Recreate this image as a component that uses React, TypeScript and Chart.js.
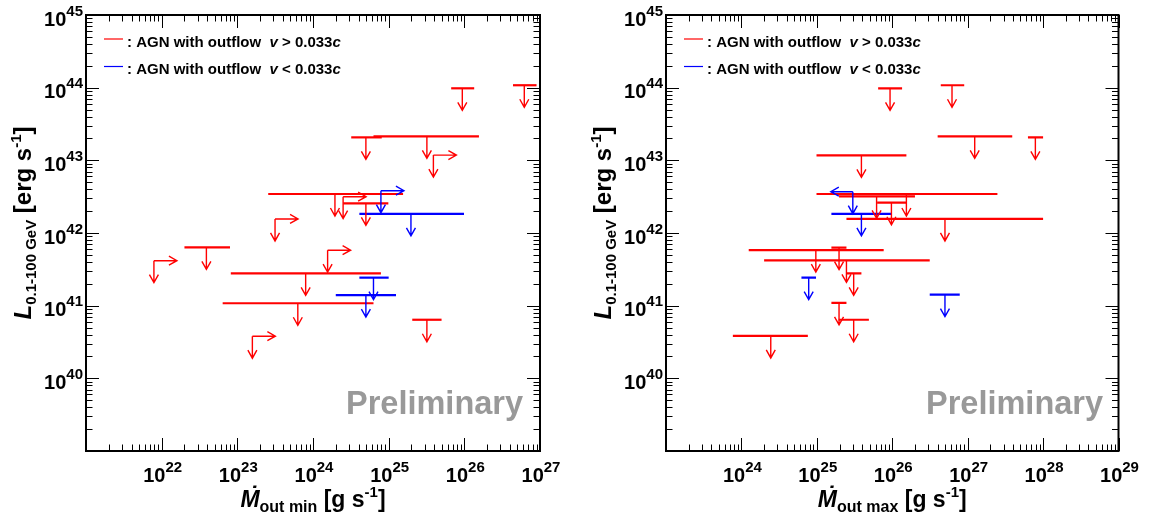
import React, { useEffect, useRef } from "react";
import { Chart, registerables } from "chart.js";

Chart.register(...registerables);

const FONT = '"Liberation Sans", Arial, Helvetica, sans-serif';
const RED = "#ff0000";
const BLUE = "#0000ff";

// ---------- Left panel: Mdot_out min ----------
const minX = [9.4e25, 6.2e26, 5.0e24, 3.2e25, 3.9e25, 1.95e24, 2.5e24, 5.0e24, 7.9e24, 1.97e25, 3.15e23, 3.9e22, 7.9e21, 1.56e24, 8.0e23, 6.3e24, 5.0e24, 6.3e23, 3.2e25, 1.58e23];
const minXLo = [6.7e25, 4.4e26, 3.2e24, 6.3e24, null, 2.56e23, null, 2.5e24, null, 4.1e24, null, 2.0e22, null, null, 8.2e22, 4.1e24, 2.0e24, 6.4e22, 2.05e25, null];
const minXHi = [1.35e26, 9.0e26, 8.1e24, 1.56e26, null, 1.55e25, null, 9.9e24, null, 9.9e25, null, 8.0e22, null, null, 7.9e24, 1.0e25, 1.25e25, 6.3e24, 5.0e25, null];
const minY = [9.8e43, 1.08e44, 2.07e43, 2.14e43, 1.18e43, 3.44e42, 3.16e42, 2.56e42, 3.82e42, 1.83e42, 1.56e42, 6.35e41, 4.16e41, 5.8e41, 2.79e41, 2.43e41, 1.4e41, 1.08e41, 6.4e40, 3.8e40];
const minGroup = ["fast", "fast", "fast", "fast", "fast", "fast", "fast", "fast", "slow", "slow", "fast", "fast", "fast", "fast", "fast", "slow", "slow", "fast", "fast", "fast"];
const minXLimit = ["", "", "", "", "right", "", "right", "", "right", "", "right", "", "right", "right", "", "", "", "", "", "right"];

// ---------- Right panel: Mdot_out max ----------
const maxX = [9.35e25, 6.2e26, 1.24e27, 7.9e27, 3.9e25, 1.54e26, 6.2e25, 9.75e25, 3.0e25, 3.9e25, 5.0e26, 9.7e24, 1.97e25, 2.47e25, 3.08e25, 7.8e24, 5.0e26, 1.97e25, 3.08e25, 2.45e24];
const maxXLo = [6.5e25, 4.4e26, 4.0e26, 6.3e27, 9.9e24, 9.9e24, 1.97e25, 6.3e25, null, 1.56e25, 2.47e25, 1.25e24, 1.56e25, 2.0e24, 2.47e25, 6.25e24, 3.14e26, 1.56e25, 1.95e25, 7.7e23];
const maxXHi = [1.35e26, 9.0e26, 3.9e27, 1.0e28, 1.54e26, 2.48e27, 2.0e26, 1.54e26, null, 9.75e25, 1.0e28, 7.7e25, 2.47e25, 3.14e26, 3.9e25, 9.75e24, 7.85e26, 2.47e25, 4.9e25, 7.6e24];
const maxY = [9.8e43, 1.08e44, 2.14e43, 2.07e43, 1.17e43, 3.44e42, 3.2e42, 2.61e42, 3.7e42, 1.83e42, 1.56e42, 5.8e41, 6.3e41, 4.2e41, 2.79e41, 2.43e41, 1.42e41, 1.09e41, 6.4e40, 3.83e40];
const maxGroup = ["fast", "fast", "fast", "fast", "fast", "fast", "fast", "fast", "slow", "slow", "fast", "fast", "fast", "fast", "fast", "slow", "slow", "fast", "fast", "fast"];
const maxXLimit = ["", "", "", "", "", "", "", "", "left", "", "", "", "", "", "", "", "", "", "", ""];

// ---------- Axes ----------
const yRange = [1e39, 1e45];
const minXRange = [1e21, 1e27];
const maxXRange = [1e23, 1e29];
const yTickExps = [40, 41, 42, 43, 44, 45];
const minXTickExps = [22, 23, 24, 25, 26, 27];
const maxXTickExps = [24, 25, 26, 27, 28, 29];
const legendGroups = ["fast", "slow"];
const legendSigns = [">", "<"];
const legendThreshold = "0.033";

type Part = { t: string; size: number; italic?: boolean; dy?: number; dot?: boolean };

function partFont(p: Part) {
  return `${p.italic ? "italic " : ""}bold ${p.size}px ${FONT}`;
}

function drawParts(ctx: CanvasRenderingContext2D, parts: Part[], x: number, y: number, align: "left" | "center" | "right") {
  let w = 0;
  for (const p of parts) {
    ctx.font = partFont(p);
    w += ctx.measureText(p.t).width;
  }
  let cx = align === "left" ? x : align === "center" ? x - w / 2 : x - w;
  ctx.textAlign = "left";
  ctx.textBaseline = "alphabetic";
  for (const p of parts) {
    ctx.font = partFont(p);
    const pw = ctx.measureText(p.t).width;
    ctx.fillText(p.t, cx, y + (p.dy || 0));
    if (p.dot) {
      ctx.textAlign = "center";
      ctx.fillText("\u02D9", cx + pw / 2 + 3, y + (p.dy || 0) - 4);
      ctx.textAlign = "left";
    }
    cx += pw;
  }
}

function arrow(ctx: CanvasRenderingContext2D, x0: number, y0: number, x1: number, y1: number) {
  const ang = Math.atan2(y1 - y0, x1 - x0);
  const L = 8;
  const W = 4.5;
  const bx = x1 - L * Math.cos(ang);
  const by = y1 - L * Math.sin(ang);
  const px = -Math.sin(ang) * W;
  const py = Math.cos(ang) * W;
  ctx.beginPath();
  ctx.moveTo(x0, y0);
  ctx.lineTo(x1, y1);
  ctx.moveTo(bx + px, by + py);
  ctx.lineTo(x1, y1);
  ctx.lineTo(bx - px, by - py);
  ctx.stroke();
}

function logTicks(scale: any, lo: number, hi: number) {
  const a = Math.round(Math.log10(lo));
  const b = Math.round(Math.log10(hi));
  const ticks: any[] = [];
  for (let e = a; e < b; e++) {
    for (let k = 1; k < 10; k++) ticks.push({ value: k * Math.pow(10, e), major: k === 1 });
  }
  ticks.push({ value: Math.pow(10, b), major: true });
  scale.ticks = ticks;
}

type PanelCfg = {
  offset: number;
  width: number;
  padLeft: number;
  padRight: number;
  X: number[];
  XLo: (number | null)[];
  XHi: (number | null)[];
  Y: number[];
  group: string[];
  limit: string[];
  xRange: number[];
  xTickExps: number[];
  xSub: string;
};

function colorOf(g: string) {
  return g === "slow" ? BLUE : RED;
}

function Panel({ cfg }: { cfg: PanelCfg }) {
  const ref = useRef<HTMLCanvasElement | null>(null);
  useEffect(() => {
    if (!ref.current) return;
    const datasets: any[] = cfg.X.map((x, i) => {
      const col = colorOf(cfg.group[i]);
      const hasBar = !cfg.limit[i] && cfg.XLo[i] != null && cfg.XHi[i] != null;
      return {
        data: hasBar
          ? [
              { x: cfg.XLo[i], y: cfg.Y[i] },
              { x: cfg.XHi[i], y: cfg.Y[i] },
            ]
          : [{ x, y: cfg.Y[i] }],
        showLine: hasBar,
        borderColor: col,
        backgroundColor: col,
        borderWidth: 2.2,
        borderCapStyle: "butt",
        pointRadius: 0,
        pointHoverRadius: 0,
        tension: 0,
        fill: false,
      };
    });

    const deco = {
      id: "deco",
      afterDatasetsDraw(chart: any) {
        const ctx: CanvasRenderingContext2D = chart.ctx;
        const xs = chart.scales.x;
        const ys = chart.scales.y;
        ctx.save();
        ctx.lineWidth = 1.4;
        ctx.lineCap = "butt";
        cfg.X.forEach((x, i) => {
          const px = xs.getPixelForValue(x);
          const py = ys.getPixelForValue(cfg.Y[i]);
          ctx.strokeStyle = colorOf(cfg.group[i]);
          arrow(ctx, px, py, px, py + 22);
          if (cfg.limit[i] === "right") arrow(ctx, px, py, px + 23, py);
          if (cfg.limit[i] === "left") arrow(ctx, px, py, px - 22, py);
        });
        ctx.restore();
      },
      afterDraw(chart: any) {
        const ctx: CanvasRenderingContext2D = chart.ctx;
        const { left, right, top, bottom } = chart.chartArea;
        const xs = chart.scales.x;
        const ys = chart.scales.y;
        ctx.save();
        // ticks
        ctx.strokeStyle = "#000";
        ctx.lineWidth = 1;
        ctx.beginPath();
        for (const t of xs.ticks) {
          const px = Math.round(xs.getPixelForValue(t.value)) + 0.5;
          const len = t.major ? 13 : 6.5;
          ctx.moveTo(px, bottom);
          ctx.lineTo(px, bottom - len);
          ctx.moveTo(px, top);
          ctx.lineTo(px, top + len);
        }
        for (const t of ys.ticks) {
          const py = Math.round(ys.getPixelForValue(t.value)) + 0.5;
          const len = t.major ? 13 : 6.5;
          ctx.moveTo(left, py);
          ctx.lineTo(left + len, py);
          ctx.moveTo(right, py);
          ctx.lineTo(right - len, py);
        }
        ctx.stroke();
        // frame
        ctx.lineWidth = 2;
        ctx.strokeRect(left, top, right - left, bottom - top);

        ctx.fillStyle = "#000";
        // x tick labels
        for (const e of cfg.xTickExps) {
          const px = xs.getPixelForValue(Math.pow(10, e));
          drawParts(ctx, [{ t: "10", size: 20 }, { t: String(e), size: 15, dy: -10 }], px + 1, bottom + 31, "center");
        }
        // y tick labels
        for (const e of yTickExps) {
          const py = ys.getPixelForValue(Math.pow(10, e));
          drawParts(ctx, [{ t: "10", size: 20 }, { t: String(e), size: 15, dy: -10 }], left - 3, py + 10.5, "right");
        }
        // x title
        drawParts(
          ctx,
          [
            { t: "M", size: 23, italic: true, dot: true },
            { t: cfg.xSub, size: 16, dy: 5 },
            { t: " [g s", size: 23 },
            { t: "-1", size: 15, dy: -10 },
            { t: "]", size: 23 },
          ],
          (left + right) / 2,
          bottom + 56,
          "center"
        );
        // y title
        ctx.save();
        ctx.translate(left - 55, top + 208);
        ctx.rotate(-Math.PI / 2);
        drawParts(
          ctx,
          [
            { t: "L", size: 24, italic: true },
            { t: "0.1-100 GeV", size: 15, dy: 5 },
            { t: " [erg s", size: 24 },
            { t: "-1", size: 15, dy: -10 },
            { t: "]", size: 24 },
          ],
          0,
          0,
          "center"
        );
        ctx.restore();
        // legend
        legendGroups.forEach((g, i) => {
          const ly = top + 24 + i * 27.5;
          ctx.strokeStyle = colorOf(g);
          ctx.lineWidth = 1.2;
          ctx.beginPath();
          ctx.moveTo(left + 18, ly);
          ctx.lineTo(left + 37, ly);
          ctx.stroke();
          ctx.fillStyle = "#000";
          drawParts(
            ctx,
            [
              { t: ": AGN with outflow  ", size: 15 },
              { t: "v", size: 15, italic: true },
              { t: ` ${legendSigns[i]} ${legendThreshold}`, size: 15 },
              { t: "c", size: 15, italic: true },
            ],
            left + 41,
            top + 31.5 + i * 27,
            "left"
          );
        });
        // watermark
        ctx.fillStyle = "#999999";
        ctx.font = `bold 32.5px ${FONT}`;
        ctx.textAlign = "left";
        ctx.textBaseline = "alphabetic";
        ctx.fillText("Preliminary", left + 260, 414);
        ctx.restore();
      },
    };

    const chart = new Chart(ref.current, {
      type: "scatter",
      data: { datasets },
      options: {
        animation: false,
        responsive: false,
        devicePixelRatio: 1,
        events: [],
        layout: { padding: { left: cfg.padLeft, right: cfg.padRight, top: 15, bottom: 76 } },
        plugins: { legend: { display: false }, tooltip: { enabled: false }, title: { display: false } },
        scales: {
          x: {
            type: "logarithmic",
            min: cfg.xRange[0],
            max: cfg.xRange[1],
            afterBuildTicks: (s: any) => logTicks(s, cfg.xRange[0], cfg.xRange[1]),
            ticks: { display: false },
            grid: { display: false, drawTicks: false },
            border: { display: false },
            title: { display: false },
          },
          y: {
            type: "logarithmic",
            min: yRange[0],
            max: yRange[1],
            afterBuildTicks: (s: any) => logTicks(s, yRange[0], yRange[1]),
            ticks: { display: false },
            grid: { display: false, drawTicks: false },
            border: { display: false },
            title: { display: false },
          },
        },
      } as any,
      plugins: [deco],
    });
    return () => chart.destroy();
  }, []);
  return (
    <canvas
      ref={ref}
      width={cfg.width}
      height={527}
      style={{ position: "absolute", left: cfg.offset, top: 0, width: cfg.width, height: 527, display: "block" }}
    />
  );
}

const leftCfg: PanelCfg = {
  offset: 0,
  width: 575,
  padLeft: 86,
  padRight: 35,
  X: minX,
  XLo: minXLo,
  XHi: minXHi,
  Y: minY,
  group: minGroup,
  limit: minXLimit,
  xRange: minXRange,
  xTickExps: minXTickExps,
  xSub: "out min",
};

const rightCfg: PanelCfg = {
  offset: 575,
  width: 574,
  padLeft: 91,
  padRight: 30.5,
  X: maxX,
  XLo: maxXLo,
  XHi: maxXHi,
  Y: maxY,
  group: maxGroup,
  limit: maxXLimit,
  xRange: maxXRange,
  xTickExps: maxXTickExps,
  xSub: "out max",
};

export default function App() {
  return (
    <div style={{ position: "absolute", left: 0, top: 0, width: 1149, height: 527, overflow: "hidden", background: "#fff" }}>
      <Panel cfg={leftCfg} />
      <Panel cfg={rightCfg} />
    </div>
  );
}
